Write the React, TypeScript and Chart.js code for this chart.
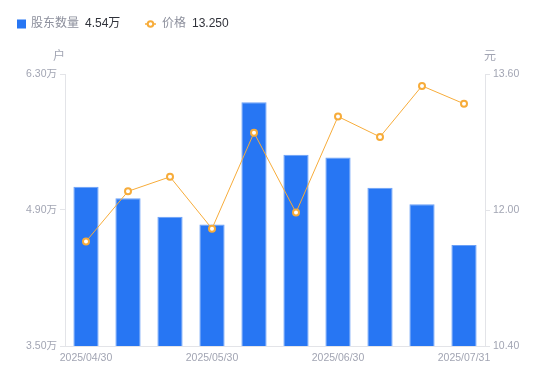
import React, { useEffect, useRef } from "react";
import { Chart, registerables } from "chart.js";

Chart.register(...registerables);

const dates = [
  "2025/04/30", "2025/05/09", "2025/05/20", "2025/05/30", "2025/06/10",
  "2025/06/20", "2025/06/30", "2025/07/10", "2025/07/20", "2025/07/31",
];
const shownDates = ["2025/04/30", "2025/05/30", "2025/06/30", "2025/07/31"];
const holders = [5.14, 5.02, 4.83, 4.75, 6.01, 5.47, 5.44, 5.13, 4.96, 4.54]; // 万户
const prices = [11.63, 12.22, 12.39, 11.78, 12.91, 11.97, 13.10, 12.86, 13.46, 13.25];
const leftTicks = [3.5, 4.9, 6.3];
const rightTicks = [10.4, 12.0, 13.6];
const legendHolder = "4.54万";
const legendPrice = "13.250";

const FONT = 'Arial, "Liberation Sans", "Noto Sans CJK SC", sans-serif';
const GRAY = "#a2a5b3";
const LINE = "#e3e4e8";
const BLUE = "#2776f3";
const ORANGE = "#f7ac3a";

const overlay = {
  id: "overlay",
  afterDraw(chart: any) {
    const ctx = chart.ctx;
    const area = chart.chartArea;
    ctx.save();
    // legend
    ctx.textBaseline = "middle";
    ctx.font = `12px ${FONT}`;
    ctx.fillStyle = BLUE;
    ctx.fillRect(17, 19.5, 9, 9);
    ctx.fillStyle = "#8c8f9c";
    ctx.textAlign = "left";
    ctx.fillText("股东数量", 31, 24);
    ctx.fillStyle = "#30323a";
    ctx.fillText(legendHolder, 85, 24);
    ctx.strokeStyle = ORANGE;
    ctx.lineWidth = 1.5;
    ctx.beginPath();
    ctx.moveTo(145, 24);
    ctx.lineTo(156, 24);
    ctx.stroke();
    ctx.beginPath();
    ctx.arc(150.5, 24, 2.8, 0, Math.PI * 2);
    ctx.fillStyle = "#fff";
    ctx.fill();
    ctx.lineWidth = 2;
    ctx.stroke();
    ctx.fillStyle = "#8c8f9c";
    ctx.fillText("价格", 162, 24);
    ctx.fillStyle = "#30323a";
    ctx.fillText(legendPrice, 192, 24);
    // unit labels
    ctx.font = `12px ${FONT}`;
    ctx.fillStyle = GRAY;
    ctx.textAlign = "center";
    ctx.fillText("户", area.left - 6, 57);
    ctx.fillText("元", area.right + 5, 57);
    ctx.restore();
  },
};

export default function App() {
  const ref = useRef<HTMLCanvasElement>(null);
  useEffect(() => {
    if (!ref.current) return;
    const chart = new Chart(ref.current, {
      type: "bar",
      data: {
        labels: dates,
        datasets: [
          {
            type: "line",
            label: "价格",
            data: prices,
            yAxisID: "y1",
            borderColor: ORANGE,
            borderWidth: 1,
            pointRadius: 3,
            pointBorderWidth: 2,
            pointBackgroundColor: "#fff",
            pointBorderColor: ORANGE,
            tension: 0,
            order: 0,
          } as any,
          {
            type: "bar",
            label: "股东数量",
            data: holders,
            yAxisID: "y",
            backgroundColor: BLUE,
            borderColor: "#6aa0f7",
            borderWidth: 1,
            categoryPercentage: 0.6,
            barPercentage: 1,
            order: 1,
          } as any,
        ],
      },
      options: {
        responsive: false,
        animation: false,
        maintainAspectRatio: false,
        layout: { padding: { top: 74, left: 0, right: 0, bottom: 0 } },
        plugins: { legend: { display: false }, tooltip: { enabled: false } },
        scales: {
          x: {
            grid: { display: false },
            border: { display: true, color: LINE },
            ticks: {
              autoSkip: false,
              maxRotation: 0,
              color: GRAY,
              font: { size: 10.5, family: FONT },
              padding: -2,
              callback: (v: any, i: number) =>
                shownDates.includes(dates[i]) ? dates[i] : "",
            },
            afterFit: (s: any) => {
              s.height = 35;
            },
          },
          y: {
            position: "left",
            min: 3.5,
            max: 6.3,
            grid: { drawOnChartArea: false, color: LINE, tickLength: 5 },
            border: { color: LINE },
            ticks: {
              color: GRAY,
              font: { size: 10.5, family: FONT },
              padding: 3,
              callback: (v: any) => Number(v).toFixed(2) + "万",
            },
            afterBuildTicks: (s: any) => {
              s.ticks = leftTicks.map((v) => ({ value: v }));
            },
            afterFit: (s: any) => {
              s.width = 65;
            },
          },
          y1: {
            position: "right",
            min: 10.4,
            max: 13.6,
            grid: { drawOnChartArea: false, color: LINE, tickLength: 5 },
            border: { color: LINE },
            ticks: {
              color: GRAY,
              font: { size: 10.5, family: FONT },
              padding: 3,
              callback: (v: any) => Number(v).toFixed(2),
            },
            afterBuildTicks: (s: any) => {
              s.ticks = rightTicks.map((v) => ({ value: v }));
            },
            afterFit: (s: any) => {
              s.width = 65;
            },
          },
        },
      },
      plugins: [overlay],
    });
    return () => chart.destroy();
  }, []);
  return (
    <div style={{ position: "fixed", left: 0, top: 0, width: 550, height: 381, background: "#fff" }}>
      <canvas ref={ref} width={550} height={381} style={{ width: 550, height: 381, display: "block" }} />
    </div>
  );
}
